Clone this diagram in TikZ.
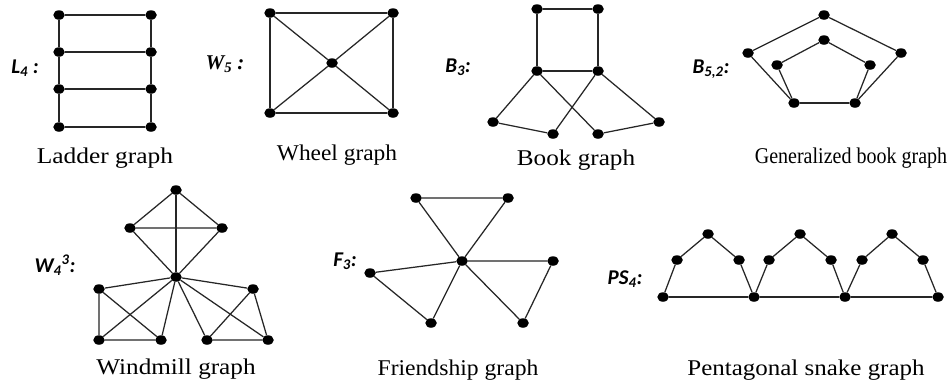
\documentclass[tikz,border=0pt]{standalone}
\usepackage{fontspec}
\setmainfont{Liberation Serif}
\newfontfamily\labsans{Carlito}
\usetikzlibrary{shapes.geometric}
\tikzset{
  v/.style={ellipse, fill=black, inner sep=0pt, minimum width=11.5pt, minimum height=9.5pt},
  e/.style={line width=1.25pt, draw=black!85},
  captxt/.style={font=\fontsize{22.5}{27}\selectfont, inner sep=0pt},
  lab/.style={inner sep=0pt, font=\fontsize{21}{22}\selectfont\labsans\bfseries\itshape},
  labserif/.style={inner sep=0pt, font=\fontsize{21}{22}\selectfont\bfseries\itshape}
}
\begin{document}
\begin{tikzpicture}[x=1pt,y=-1pt]
\useasboundingbox (0,0) rectangle (952,386);
\fill[white] (0,0) rectangle (952,386);

% ---------- Ladder graph ----------
\node[v] (a1) at (59,15) {};
\node[v] (a2) at (151,15) {};
\node[v] (a3) at (59,52) {};
\node[v] (a4) at (151,52) {};
\node[v] (a5) at (59,89) {};
\node[v] (a6) at (151,89) {};
\node[v] (a7) at (59,127) {};
\node[v] (a8) at (151,127) {};
\draw[e] (a1) -- (a2);
\draw[e] (a3) -- (a4);
\draw[e] (a5) -- (a6);
\draw[e] (a7) -- (a8);
\draw[e] (a1) -- (a3) -- (a5) -- (a7);
\draw[e] (a2) -- (a4) -- (a6) -- (a8);
\node[lab] (l1) at (25,68) {L\textsubscript{4} :};
\node[captxt] (c1) at (105,158) {\scalebox{1.13}[1]{Ladder graph}};

% ---------- Wheel graph ----------
\node[v] (w1) at (270,13) {};
\node[v] (w2) at (393,13) {};
\node[v] (w3) at (393,113) {};
\node[v] (w4) at (270,113) {};
\node[v] (w0) at (332,63) {};
\draw[e] (w1) -- (w2) -- (w3) -- (w4) -- (w1);
\draw[e] (w0) -- (w1);
\draw[e] (w0) -- (w2);
\draw[e] (w0) -- (w3);
\draw[e] (w0) -- (w4);
\node[labserif] (l2) at (225,64) {W\textsubscript{5} :};
\node[captxt] (c2) at (337,155) {\scalebox{1.04}[1]{Wheel graph}};

% ---------- Book graph ----------
\node[v] (b1) at (537,9) {};
\node[v] (b2) at (598,9) {};
\node[v] (b3) at (537,71) {};
\node[v] (b4) at (598,71) {};
\node[v] (b5) at (493,122) {};
\node[v] (b6) at (553,134) {};
\node[v] (b7) at (598,134) {};
\node[v] (b8) at (659,122) {};
\draw[e] (b1) -- (b2) -- (b4) -- (b3) -- (b1);
\draw[e] (b3) -- (b5) -- (b6) -- (b4);
\draw[e] (b3) -- (b7) -- (b8) -- (b4);
\node[lab] (l3) at (458,67) {B\textsubscript{3}:};
\node[captxt] (c3) at (576,160) {\scalebox{1.12}[1]{Book graph}};

% ---------- Generalized book graph ----------
\node[v] (g1) at (824,15) {};
\node[v] (g2) at (748,53) {};
\node[v] (g3) at (901,53) {};
\node[v] (g4) at (824,40) {};
\node[v] (g5) at (777,65) {};
\node[v] (g6) at (870,65) {};
\node[v] (g7) at (794,103) {};
\node[v] (g8) at (855,103) {};
\draw[e] (g7) -- (g2) -- (g1) -- (g3) -- (g8);
\draw[e] (g7) -- (g5) -- (g4) -- (g6) -- (g8);
\draw[e] (g7) -- (g8);
\node[lab] (l4) at (711,69) {B\textsubscript{5,2}:};
\node[captxt] (c4) at (851,158) {\scalebox{0.89}[1]{Generalized book graph}};

% ---------- Windmill graph ----------
\node[v] (m0) at (176,277) {};
\node[v] (m1) at (176,190) {};
\node[v] (m2) at (130,228) {};
\node[v] (m3) at (222,228) {};
\node[v] (m4) at (99,289) {};
\node[v] (m5) at (99,340) {};
\node[v] (m6) at (161,340) {};
\node[v] (m7) at (253,289) {};
\node[v] (m8) at (207,340) {};
\node[v] (m9) at (268,340) {};
\draw[e] (m1) -- (m2) -- (m3) -- (m1);
\draw[e] (m0) -- (m1);
\draw[e] (m0) -- (m2);
\draw[e] (m0) -- (m3);
\draw[e] (m0) -- (m4);
\draw[e] (m0) -- (m5);
\draw[e] (m0) -- (m6);
\draw[e] (m4) -- (m5) -- (m6) -- (m4);
\draw[e] (m0) -- (m7);
\draw[e] (m0) -- (m8);
\draw[e] (m0) -- (m9);
\draw[e] (m7) -- (m8) -- (m9) -- (m7);
\node[lab] (l5) at (55,265) {W\textsubscript{4}\textsuperscript{3}:};
\node[captxt] (c5) at (176,369) {\scalebox{1.12}[1]{Windmill graph}};

% ---------- Friendship graph ----------
\node[v] (f0) at (462,261) {};
\node[v] (f1) at (416,198) {};
\node[v] (f2) at (508,198) {};
\node[v] (f3) at (553,261) {};
\node[v] (f4) at (523,323) {};
\node[v] (f5) at (370,273) {};
\node[v] (f6) at (431,323) {};
\draw[e] (f0) -- (f1) -- (f2) -- (f0);
\draw[e] (f0) -- (f3) -- (f4) -- (f0);
\draw[e] (f0) -- (f5) -- (f6) -- (f0);
\node[lab] (l6) at (345,261) {F\textsubscript{3}:};
\node[captxt] (c6) at (458,370) {\scalebox{1.05}[1]{Friendship graph}};

% ---------- Pentagonal snake graph ----------
\node[v] (s1) at (663,297) {};
\node[v] (s2) at (754,297) {};
\node[v] (s3) at (845,297) {};
\node[v] (s4) at (938,297) {};
\node[v] (p1) at (677,260) {};
\node[v] (t1) at (708,234) {};
\node[v] (q1) at (739,260) {};
\node[v] (p2) at (769,260) {};
\node[v] (t2) at (800,234) {};
\node[v] (q2) at (831,260) {};
\node[v] (p3) at (862,260) {};
\node[v] (t3) at (892,234) {};
\node[v] (q3) at (923,260) {};
\draw[e] (s1) -- (s2) -- (s3) -- (s4);
\draw[e] (s1) -- (p1) -- (t1) -- (q1) -- (s2);
\draw[e] (s2) -- (p2) -- (t2) -- (q2) -- (s3);
\draw[e] (s3) -- (p3) -- (t3) -- (q3) -- (s4);
\node[lab] (l7) at (625,279) {PS\textsubscript{4}:};
\node[captxt] (c7) at (806,370) {\scalebox{1.11}[1]{Pentagonal snake graph}};
\end{tikzpicture}
\end{document}
